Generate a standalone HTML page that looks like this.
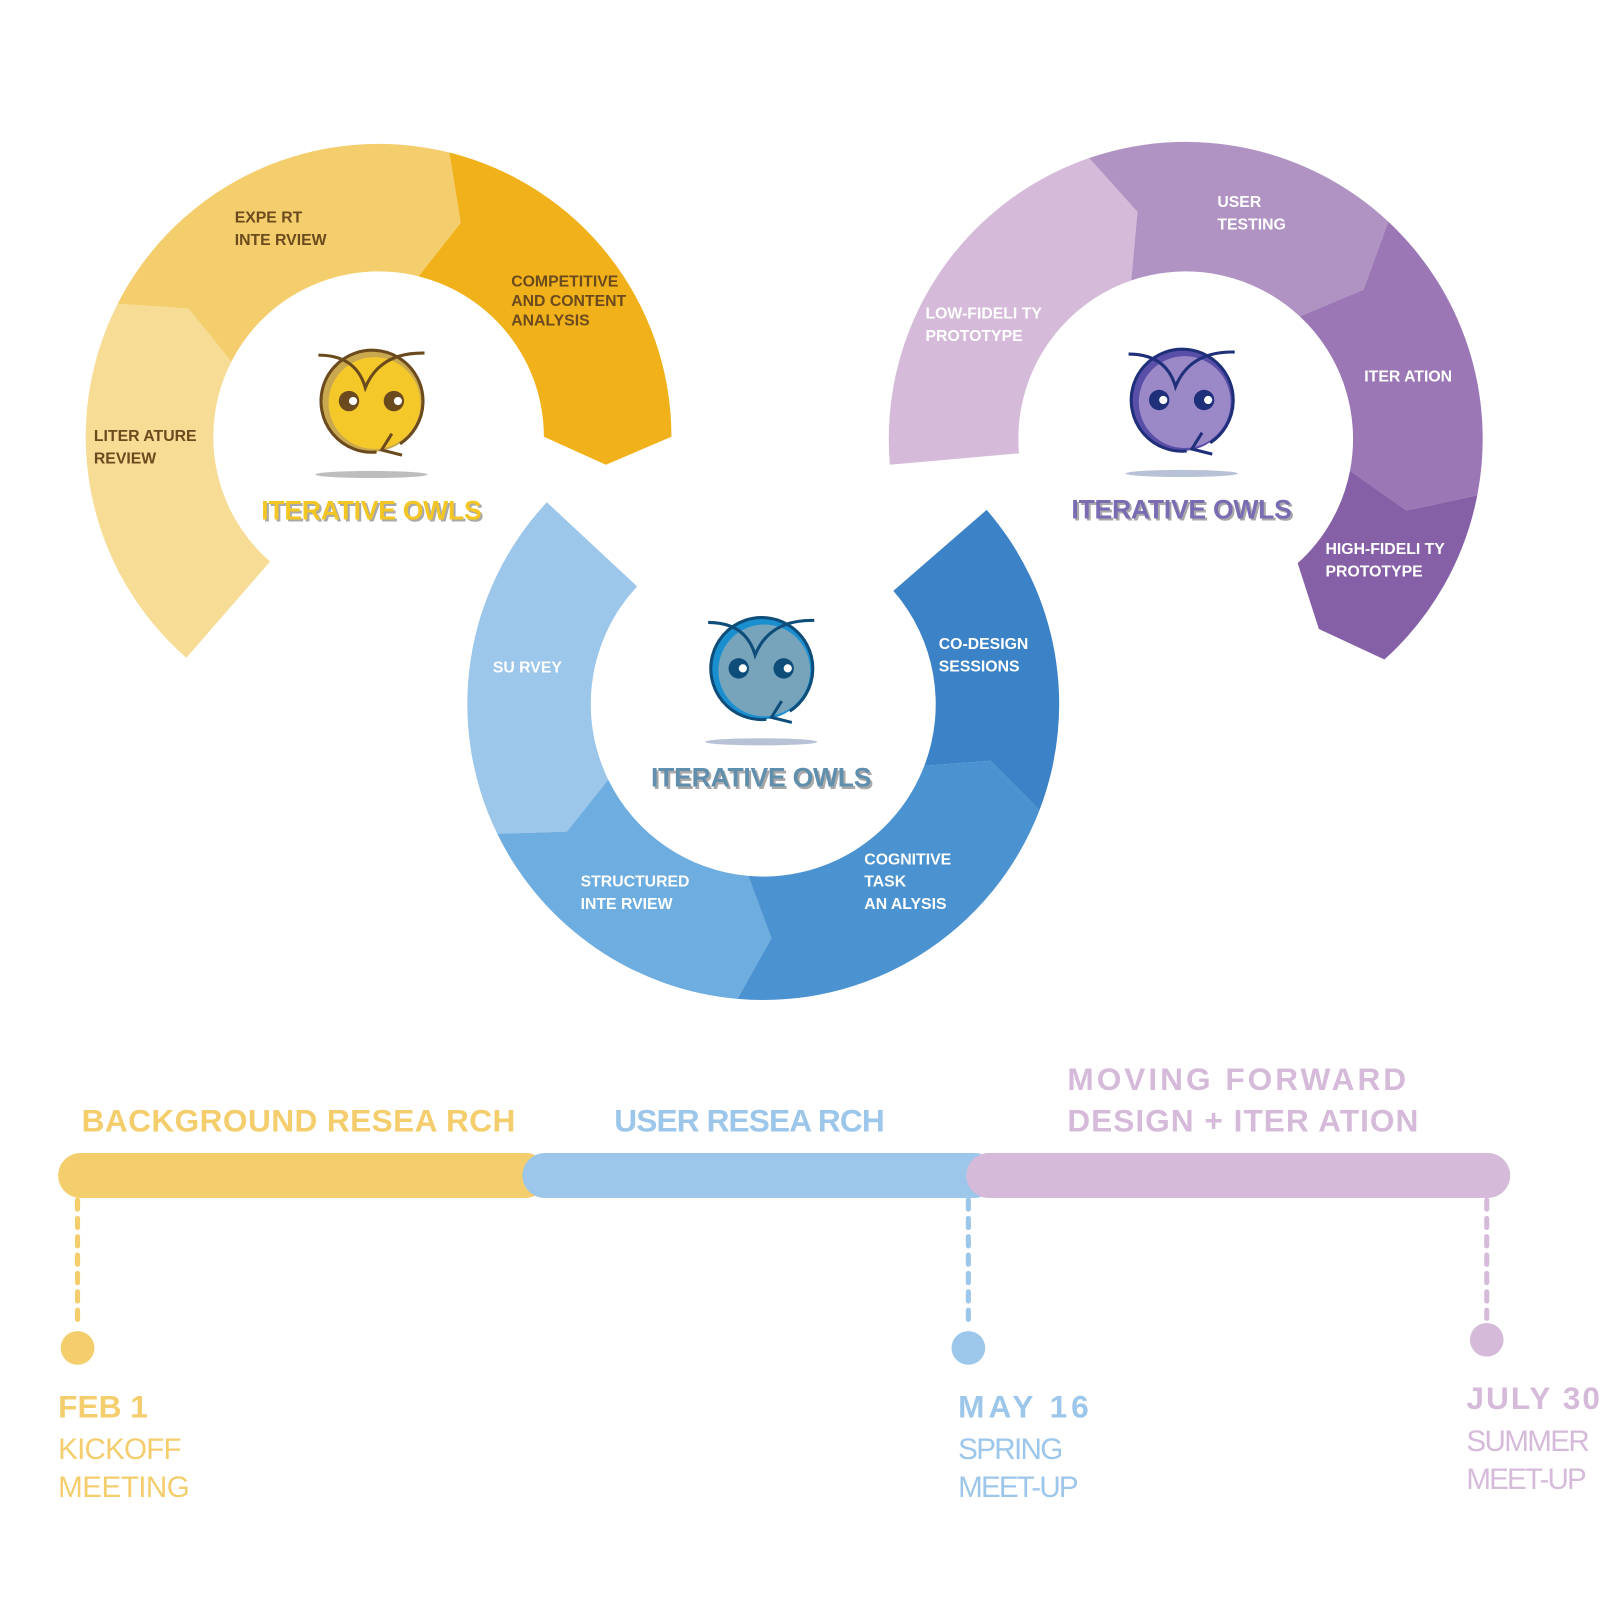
<!DOCTYPE html>
<html><head><meta charset="utf-8"><style>
html,body{margin:0;padding:0;background:#fff}
svg{display:block}
text{font-family:"Liberation Sans",sans-serif;font-weight:bold}
</style></head><body>
<svg id="s" width="1600" height="1600" viewBox="0 0 1568 1568" xmlns="http://www.w3.org/2000/svg">
<g id="rings"></g>
<g id="labels" font-size="15.5" font-weight="bold">
<text x="230" y="218" fill="#6b4a1e">EXPE RT<tspan x="230" dy="22">INTE RVIEW</tspan></text>
<text x="501" y="281" fill="#6b4a1e">COMPETITIVE<tspan x="501" dy="19">AND CONTENT</tspan><tspan x="501" dy="19">ANALYSIS</tspan></text>
<text x="92" y="432" fill="#6b4a1e">LITER ATURE<tspan x="92" dy="22">REVIEW</tspan></text>
<text x="483" y="659" fill="#fff">SU RVEY</text>
<text x="920" y="636" fill="#fff">CO-DESIGN<tspan x="920" dy="22">SESSIONS</tspan></text>
<text x="569" y="869" fill="#fff">STRUCTURED<tspan x="569" dy="22">INTE RVIEW</tspan></text>
<text x="847" y="847" fill="#fff">COGNITIVE<tspan x="847" dy="22">TASK</tspan><tspan x="847" dy="22">AN ALYSIS</tspan></text>
<text x="1193" y="203" fill="#fff">USER<tspan x="1193" dy="22">TESTING</tspan></text>
<text x="907" y="312" fill="#fff">LOW-FIDELI TY<tspan x="907" dy="22">PROTOTYPE</tspan></text>
<text x="1337" y="374" fill="#fff">ITER ATION</text>
<text x="1299" y="543" fill="#fff">HIGH-FIDELI  TY<tspan x="1299" dy="22">PROTOTYPE</tspan></text>
</g>
<g id="owls"></g>
<g id="timeline">
<text x="80" y="1109" font-size="31" fill="#f4cd6c" textLength="425">BACKGROUND RESEA RCH</text>
<text x="602" y="1109" font-size="31" fill="#9cc6ea" textLength="265">USER RESEA RCH</text>
<text x="1046" y="1068" font-size="31" fill="#d5bbd9"><tspan textLength="332">MOVING FORWARD</tspan><tspan x="1046" dy="41" textLength="344">DESIGN + ITER ATION</tspan></text>
<rect x="57" y="1130" width="480" height="44" rx="22" fill="#f4cd6c"/>
<rect x="512" y="1130" width="465" height="44" rx="22" fill="#9cc6ea"/>
<rect x="947" y="1130" width="533" height="44" rx="22" fill="#d5bbd9"/>
<line x1="76" y1="1176" x2="76" y2="1300" stroke="#f4cd6c" stroke-width="5" stroke-dasharray="9 9" stroke-linecap="round"/>
<line x1="949" y1="1176" x2="949" y2="1300" stroke="#9cc6ea" stroke-width="5" stroke-dasharray="9 9" stroke-linecap="round"/>
<line x1="1457" y1="1176" x2="1457" y2="1292" stroke="#d5bbd9" stroke-width="5" stroke-dasharray="9 9" stroke-linecap="round"/>
<circle cx="76" cy="1321" r="16.5" fill="#f4cd6c"/>
<circle cx="949" cy="1321" r="16.5" fill="#9cc6ea"/>
<circle cx="1457" cy="1313" r="16.5" fill="#d5bbd9"/>
<g font-size="31">
<text x="57" y="1389" fill="#f4cd6c">FEB 1</text>
<text x="939" y="1389" fill="#9cc6ea" textLength="128">MAY 16</text>
<text x="1437" y="1381" fill="#d5bbd9" textLength="131">JULY 30</text>
</g>
<g font-size="29">
<text x="57" y="1430" fill="#f4cd6c" style="font-weight:normal"><tspan textLength="121">KICKOFF</tspan><tspan x="57" dy="37" textLength="129">MEETING</tspan></text>
<text x="939" y="1430" fill="#9cc6ea" style="font-weight:normal"><tspan textLength="103">SPRING</tspan><tspan x="939" dy="37" textLength="118">MEET-UP</tspan></text>
<text x="1437" y="1422" fill="#d5bbd9" style="font-weight:normal"><tspan textLength="121">SUMMER</tspan><tspan x="1437" dy="37" textLength="118">MEET-UP</tspan></text>
</g>
</g>
</svg>
<script>
// ring geometry and segment data (angles in degrees, screen coords)
const ringCenters=[[371,428],[748,690],[1162,430]];
const ringRadii=[[162,287],[169,290],[164,291]];
const ringDir=[1,-1,1];
const ringStarts=[131,223,175];
const segEnds=[[207,284,360],[154,95,21,-41],[251,313,371,408]];
const endChev=[1,0,1];
const segColors=[["#f7dc96","#f4cd6c","#f0b11a"],["#9cc6ea","#6eaddf","#4a92d0","#3b82c6"],["#d5bbd9","#b093c3","#9b77b5","#8660a6"]];
const g=document.getElementById('rings');
function P(c,r,a){const t=a*Math.PI/180;return (c[0]+r*Math.cos(t)).toFixed(1)+' '+(c[1]+r*Math.sin(t)).toFixed(1);}
ringCenters.forEach((c,i)=>{
  const [ri,ro]=ringRadii[i],d=ringDir[i],rm=(ri+ro)/2,ch=7*d;
  let a0=ringStarts[i];
  segEnds[i].forEach((a1,j)=>{
    const last=j===segEnds[i].length-1, first=j===0;
    const sw=d>0?1:0, sw2=d>0?0:1, big=Math.abs(a1-a0)>180?1:0;
    let p='M'+P(c,ro,a0)+' A'+ro+' '+ro+' 0 '+big+' '+sw+' '+P(c,ro,a1);
    if(!last || endChev[i]) p+=' L'+P(c,rm,a1+ch);
    p+=' L'+P(c,ri,a1)+' A'+ri+' '+ri+' 0 '+big+' '+sw2+' '+P(c,ri,a0);
    if(!first) p+=' L'+P(c,rm,a0+ch);
    p+=' Z';
    const el=document.createElementNS('http://www.w3.org/2000/svg','path');
    el.setAttribute('d',p);el.setAttribute('fill',segColors[i][j]);
    
    
    g.appendChild(el);
    a0=a1;
  });
});
// owls
const owlPos=[[364,393],[746,655],[1158,392]];
const owlFill=["#f5c82a","#77a4bb","#9b89c7"];
const owlLine=["#6b4a1e","#0e4d7a","#1f2f7a"];
const owlRim=["#c9a84f","#1a8fd0","#5a4fa8"];
const owlText=["#f3c623","#5f8fad","#7a6bb3"];
const owlShadow=["#bdbdbd","#b8c2d6","#b8c2d6"];
const og=document.getElementById('owls');
owlPos.forEach((p,i)=>{
  const [x,y]=p,L=owlLine[i];
  const s=`<g>
<ellipse cx="${x}" cy="${y+72}" rx="55" ry="3.5" fill="${owlShadow[i]}"/>
<circle cx="${x}" cy="${y}" r="50" fill="${owlRim[i]}"/>
<circle cx="${x+3}" cy="${y+2}" r="45" fill="${owlFill[i]}"/>
<path d="M${x+5} ${y+50} A50 50 0 1 1 ${x+28} ${y+42}" fill="none" stroke="${L}" stroke-width="3"/>
<path d="M${x+20} ${y+32} L${x+10} ${y+48} L${x+30} ${y+53}" fill="none" stroke="${L}" stroke-width="3"/>
<path d="M${x-52} ${y-45} Q${x-15} ${y-45} ${x-6} ${y-13} Q${x+8} ${y-48} ${x+52} ${y-47}" fill="none" stroke="${L}" stroke-width="3"/>
<circle cx="${x-22}" cy="${y}" r="10" fill="${L}"/><circle cx="${x-18}" cy="${y}" r="4" fill="#fff"/>
<circle cx="${x+22}" cy="${y}" r="10" fill="${L}"/><circle cx="${x+26}" cy="${y}" r="4" fill="#fff"/>
<text x="${x+2}" y="${y+118}" text-anchor="middle" font-size="26" fill="#555" opacity="0.5" textLength="216">ITERATIVE OWLS</text>
<text x="${x}" y="${y+116}" text-anchor="middle" font-size="26" fill="${owlText[i]}" textLength="216">ITERATIVE OWLS</text>
</g>`;
  og.insertAdjacentHTML('beforeend',s);
});
</script>
</body></html>
